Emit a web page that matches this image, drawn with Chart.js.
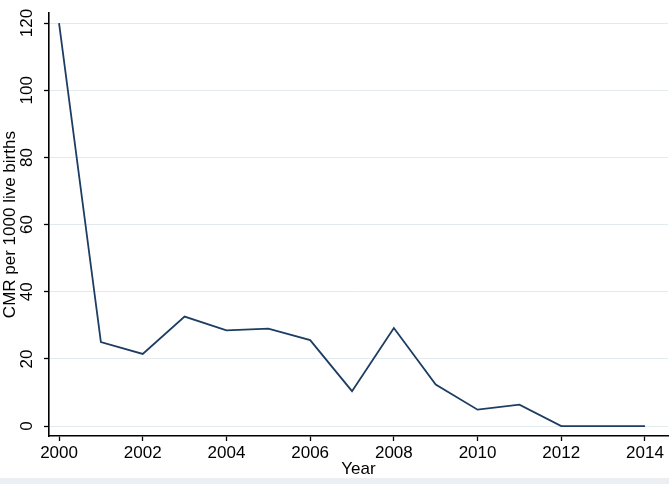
<!DOCTYPE html>
<html>
<head>
<meta charset="utf-8">
<script src="https://cdn.jsdelivr.net/npm/chart.js@4/dist/chart.umd.min.js"></script>
<style>
	html, body { margin: 0; padding: 0; background: #eceff1; }
	#wrap { position: relative; width: 669px; height: 478px; background: #fff; }
</style>
</head>
<body>
<div id="wrap"><canvas id="plot"></canvas></div>
<script>
// child mortality rate per 1000 live births, by year
const years = [2000, 2001, 2002, 2003, 2004, 2005, 2006, 2007, 2008, 2009, 2010, 2011, 2012, 2013, 2014];
const cmr = [120, 25, 21.5, 32.6, 28.5, 29, 25.6, 10.4, 29.2, 12.4, 4.9, 6.4, 0, 0, 0];
const xTicks = [2000, 2002, 2004, 2006, 2008, 2010, 2012, 2014];
const yTicks = [0, 20, 40, 60, 80, 100, 120];

const font = { family: "'Liberation Sans', Arial, sans-serif", size: 17 };

const plot = new Chart(document.getElementById('plot').getContext('2d'), {
	type: 'line',
	data: {
		datasets: [{
			label: 'CMR',
			data: years.map((y, i) => ({ x: y, y: cmr[i] })),
			fill: false,
			borderWidth: 1.8,
			lineTension: 0,
			pointRadius: 0,
			borderColor: '#1d3d63'
		}]
	},
	options: {
		responsive: true,
		maintainAspectRatio: false,
		animation: false,
		layout: {
			padding: {
				left: 0,
				right: 1,
				top: 8,
				bottom: 0
			}
		},
		plugins: {
			legend: { display: false },
			tooltip: { enabled: false }
		},
		scales: {
			x: {
				type: 'linear',
				position: 'bottom',
				min: 1999.76,
				max: 2014.55,
				afterBuildTicks: s => { s.ticks = xTicks.map(v => ({ value: v })); },
				afterFit: s => { s.height = 42; },
				title: {
					display: true,
					text: 'Year',
					color: '#000',
					font: { family: font.family, size: 17, lineHeight: 1 },
					padding: { top: 0, bottom: 0 }
				},
				grid: {
					drawOnChartArea: false,
					tickLength: 5,
					tickColor: '#000',
					tickWidth: 1.3
				},
				border: { color: '#000', width: 1.6 },
				ticks: {
					color: '#000',
					font: font,
					padding: 2,
					maxRotation: 0,
					autoSkip: false,
					callback: v => String(v)
				}
			},
			y: {
				type: 'linear',
				min: -2.94,
				max: 122.94,
				afterBuildTicks: s => { s.ticks = yTicks.map(v => ({ value: v })); },
				afterFit: s => { s.width = 49; },
				title: {
					display: true,
					text: 'CMR per 1000 live births',
					color: '#000',
					font: font,
					padding: 0
				},
				grid: {
					color: '#e2eaed',
					lineWidth: 1,
					tickLength: 5,
					tickColor: '#000',
					tickWidth: 1.3
				},
				border: { color: '#000', width: 1.6 },
				ticks: {
					color: '#000',
					font: font,
					minRotation: 90,
					maxRotation: 90,
					crossAlign: 'center',
					padding: 3,
					callback: v => String(v)
				}
			}
		}
	}
});
</script>
</body>
</html>
